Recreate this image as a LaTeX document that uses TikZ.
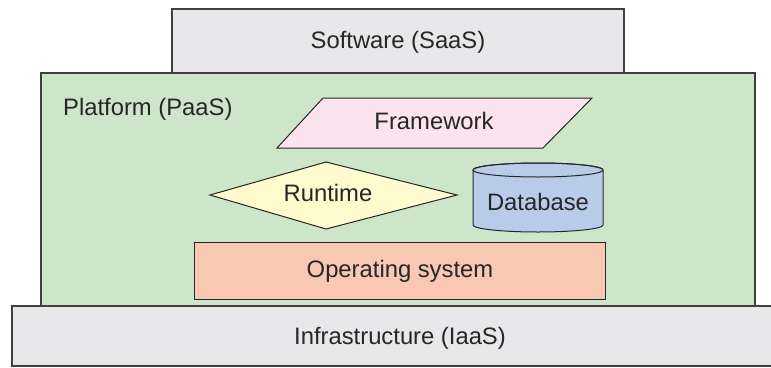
\documentclass[tikz,border=0pt]{standalone}
\usepackage{fontspec}
\setmainfont{Liberation Sans}
\begin{document}
\begin{tikzpicture}[x=1pt,y=-1pt,
  box/.style={draw=black!75, line width=1.4pt},
  lbl/.style={font=\fontsize{23.8}{26}\selectfont, text=black!85, inner sep=0pt},
  thin/.style={draw=black!85, line width=1pt}]
\useasboundingbox (0,0) rectangle (771,367);
\definecolor{greyfill}{HTML}{E8E8EA}
\definecolor{greenfill}{HTML}{CDE6C9}
\definecolor{pinkfill}{HTML}{FCE4EE}
\definecolor{yellowfill}{HTML}{FFFBCF}
\definecolor{bluefill}{HTML}{B8CCEA}
\definecolor{salmonfill}{HTML}{F9C8B2}
% SaaS
\path[box, fill=greyfill] (172,9) rectangle (624,74);
\node[lbl] (saas) at (398,42) {Software (SaaS)};
% PaaS
\path[box, fill=greenfill] (41,73) rectangle (755,306);
\node[lbl, anchor=west] (paas) at (63,109) {Platform (PaaS)};
% IaaS
\path[box, fill=greyfill] (12,306) rectangle (773,366);
\node[lbl] (iaas) at (400,338) {Infrastructure (IaaS)};
% Framework
\path[thin, fill=pinkfill] (323,98) -- (592,98) -- (543,148) -- (277,148) -- cycle;
\node[lbl] (fw) at (434,121) {Framework};
% Runtime
\path[thin, fill=yellowfill] (210,195) -- (326,162) -- (457,195) -- (326,229) -- cycle;
\node[lbl] (rt) at (328,193) {Runtime};
% Database
\path[thin, fill=bluefill] (473,170) -- (473,225) arc[start angle=180, end angle=360, x radius=65pt, y radius=7pt] -- (603,170) arc[start angle=0, end angle=180, x radius=65pt, y radius=7pt] -- cycle;
\path[thin] (538,170) ellipse[x radius=65pt, y radius=7pt];
\node[lbl] (db) at (538,202) {Database};
% OS
\path[thin, fill=salmonfill] (194,242) rectangle (605,299);
\node[lbl] (os) at (400,271) {Operating system};
\end{tikzpicture}
\end{document}
